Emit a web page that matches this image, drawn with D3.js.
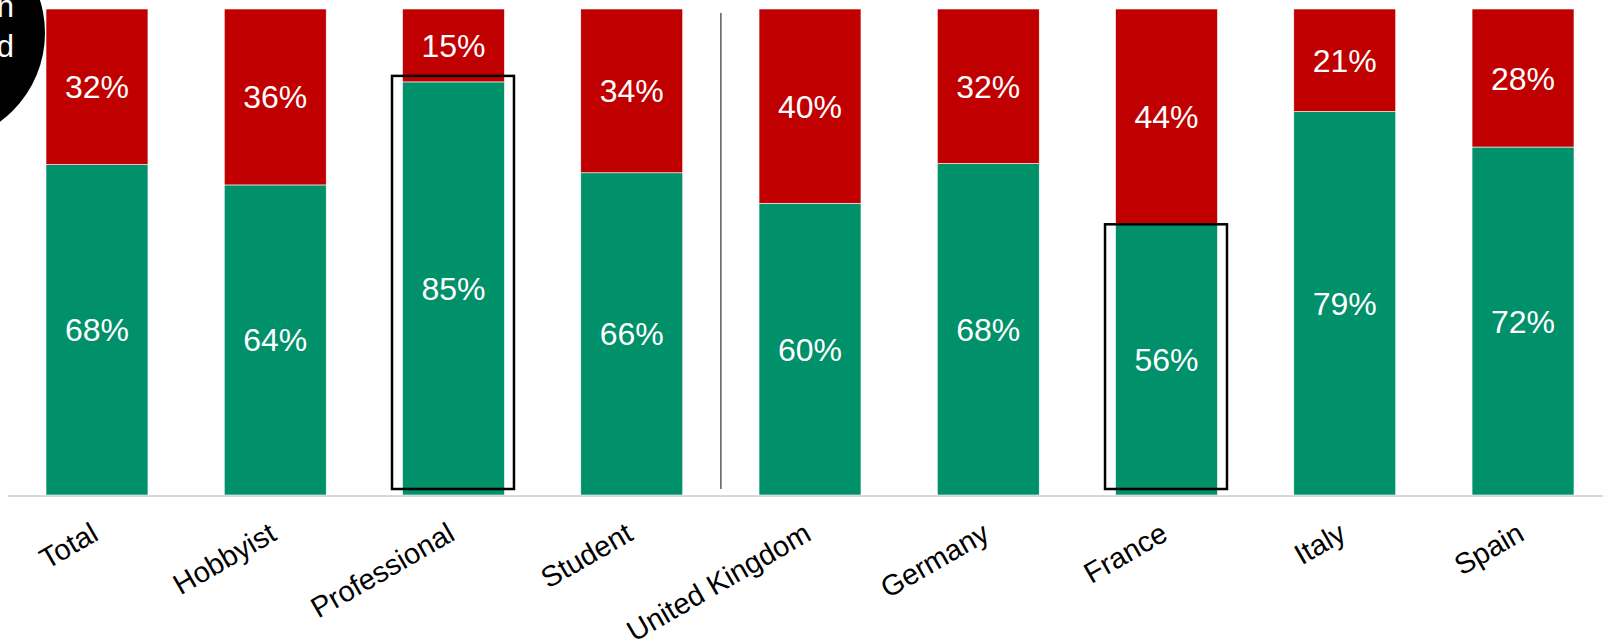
<!DOCTYPE html>
<html>
<head>
<meta charset="utf-8">
<script src="https://cdn.jsdelivr.net/npm/d3@7/dist/d3.min.js"></script>
<style>
  html, body { margin: 0; padding: 0; background: #ffffff; }
  svg { display: block; }
</style>
</head>
<body>
<svg id="chart" width="1603" height="639"></svg>
<script>
// ---- data ----
const categories = ["Total", "Hobbyist", "Professional", "Student", "United Kingdom", "Germany", "France", "Italy", "Spain"];
const greenValues = [68.0, 63.8, 85.0, 66.3, 60.0, 68.2, 55.7, 78.9, 71.6];
const redValues   = [32.0, 36.2, 15.0, 33.7, 40.0, 31.8, 44.3, 21.1, 28.4];
const greenLabels = ["68%", "64%", "85%", "66%", "60%", "68%", "56%", "79%", "72%"];
const redLabels   = ["32%", "36%", "15%", "34%", "40%", "32%", "44%", "21%", "28%"];
const highlighted = ["Professional", "France"];
const dividerAfter = "Student";
const badgeLines = ["n", "d"];

// ---- layout ----
const W = 1603, H = 639;
const baseY = 495, topY = 9;
const green = "#00906A", red = "#C00000";
const font = "'Liberation Sans', Arial, sans-serif";

const svg = d3.select("#chart");

const x = d3.scaleBand()
  .domain(categories)
  .range([46, 1574])
  .paddingInner(0.428)
  .paddingOuter(0);

const y = d3.scaleLinear().domain([0, 100]).range([baseY, topY]);

const rows = categories.map((c, i) => ({
  cat: c, g: greenValues[i], r: redValues[i], gl: greenLabels[i], rl: redLabels[i]
}));

// badge circle (cut off at top-left, as in the reference)
svg.append("circle").attr("cx", -65).attr("cy", 33).attr("r", 110).attr("fill", "#000");
svg.selectAll("text.badge").data(badgeLines).join("text")
  .attr("class", "badge")
  .attr("x", 14)
  .attr("y", (d, i) => 17 + i * 40)
  .attr("text-anchor", "end")
  .attr("fill", "#fff")
  .style("font-family", font)
  .style("font-size", "31px")
  .text(d => d);

// bars
const g = svg.append("g");
g.selectAll("rect.green").data(rows).join("rect")
  .attr("class", "green")
  .attr("x", d => x(d.cat))
  .attr("width", x.bandwidth())
  .attr("y", d => y(d.g))
  .attr("height", d => y(0) - y(d.g))
  .attr("fill", green)
  .attr("stroke", "#ffffff").attr("stroke-width", 0.6);

g.selectAll("rect.red").data(rows).join("rect")
  .attr("class", "red")
  .attr("x", d => x(d.cat))
  .attr("width", x.bandwidth())
  .attr("y", d => y(d.g + d.r))
  .attr("height", d => y(d.g) - y(d.g + d.r))
  .attr("fill", red)
  .attr("stroke", "#ffffff").attr("stroke-width", 0.6);

// value labels
g.selectAll("text.gl").data(rows).join("text")
  .attr("class", "gl")
  .attr("x", d => x(d.cat) + x.bandwidth() / 2)
  .attr("y", d => (y(0) + y(d.g)) / 2)
  .attr("dy", "0.36em")
  .attr("text-anchor", "middle")
  .attr("fill", "#fff")
  .style("font-family", font)
  .style("font-size", "32px")
  .text(d => d.gl);

g.selectAll("text.rl").data(rows).join("text")
  .attr("class", "rl")
  .attr("x", d => x(d.cat) + x.bandwidth() / 2)
  .attr("y", d => (y(d.g) + y(d.g + d.r)) / 2)
  .attr("dy", "0.36em")
  .attr("text-anchor", "middle")
  .attr("fill", "#fff")
  .style("font-family", font)
  .style("font-size", "32px")
  .text(d => d.rl);

// axis baseline
svg.append("line")
  .attr("x1", 8).attr("x2", W)
  .attr("y1", baseY + 1).attr("y2", baseY + 1)
  .attr("stroke", "#d9d9d9").attr("stroke-width", 2);

// category axis labels via d3 axis
const axis = d3.axisBottom(x).tickSize(0).tickPadding(0);
const axG = svg.append("g").attr("transform", `translate(0,${baseY})`).call(axis);
axG.select(".domain").remove();
axG.selectAll(".tick text")
  .attr("fill", "#000")
  .style("font-family", font)
  .style("font-size", "29px")
  .attr("text-anchor", "end")
  .attr("dy", null)
  .attr("y", null)
  .attr("transform", "translate(3,44) rotate(-30)");

// divider line between the two groups
const iDiv = categories.indexOf(dividerAfter);
const divX = (x(categories[iDiv]) + x.bandwidth() + x(categories[iDiv + 1])) / 2;
svg.append("line")
  .attr("x1", divX).attr("x2", divX)
  .attr("y1", 13).attr("y2", 489)
  .attr("stroke", "#595959").attr("stroke-width", 1.5);

// highlight boxes
const boxTopOffset = { "Professional": -6, "France": 0 };
highlighted.forEach(c => {
  const i = categories.indexOf(c);
  const x0 = x(c) - 10.5;
  const y0 = y(greenValues[i]) + boxTopOffset[c];
  svg.append("rect")
    .attr("x", x0).attr("y", y0)
    .attr("width", x.bandwidth() + 20)
    .attr("height", 489 - y0)
    .attr("fill", "none")
    .attr("stroke", "#000").attr("stroke-width", 2.5);
});
</script>
</body>
</html>
